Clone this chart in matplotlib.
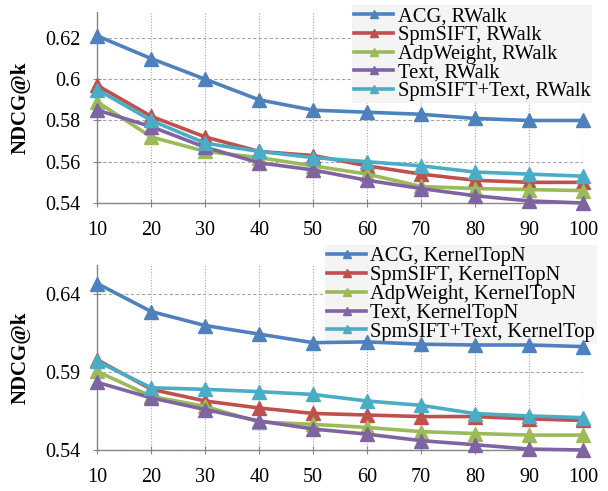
import matplotlib
matplotlib.use('Agg')
import matplotlib.pyplot as plt
import numpy as np

plt.rcParams['font.family'] = ['Liberation Serif', 'DejaVu Serif']

k = [10, 20, 30, 40, 50, 60, 70, 80, 90, 100]

# RWalk panel
rw_acg = [0.621, 0.610, 0.600, 0.590, 0.585, 0.584, 0.583, 0.581, 0.580, 0.580]
rw_sift = [0.597, 0.582, 0.572, 0.565, 0.563, 0.558, 0.554, 0.551, 0.550, 0.550]
rw_adp = [0.589, 0.572, 0.565, 0.562, 0.558, 0.554, 0.548, 0.547, 0.5465, 0.546]
rw_text = [0.585, 0.577, 0.567, 0.5595, 0.556, 0.551, 0.547, 0.5435, 0.541, 0.540]
rw_both = [0.595, 0.580, 0.569, 0.565, 0.562, 0.560, 0.558, 0.555, 0.554, 0.553]

# KernelTopN panel
kt_acg = [0.647, 0.629, 0.620, 0.6145, 0.609, 0.6095, 0.608, 0.6075, 0.6075, 0.6065]
kt_sift = [0.598, 0.579, 0.5715, 0.567, 0.5635, 0.5625, 0.5615, 0.5615, 0.560, 0.559]
kt_adp = [0.5905, 0.5745, 0.568, 0.558, 0.5565, 0.5545, 0.5518, 0.5506, 0.5496, 0.5496]
kt_text = [0.5835, 0.5735, 0.566, 0.5587, 0.5535, 0.5502, 0.546, 0.5434, 0.5406, 0.540]
kt_both = [0.597, 0.580, 0.579, 0.5775, 0.5757, 0.5715, 0.5687, 0.5634, 0.5619, 0.5608]

names = ['ACG', 'SpmSIFT', 'AdpWeight', 'Text', 'SpmSIFT+Text']
colors = ['#4F81BD', '#C0504D', '#9BBB59', '#8064A2', '#4BACC6']

fig = plt.figure(figsize=(6.08, 4.91), dpi=100)


def draw(ax, series, suffix, ylim, yticks, ylabels, legend_box):
	labels = [n + ', ' + suffix for n in names]
	if suffix == 'KernelTopN':
		labels[4] = 'SpmSIFT+Text, KernelTop'
	for vals, c, lab in zip(series, colors, labels):
		ax.plot(k, vals, color=c, lw=2.6, marker='^', ms=10.5,
				markeredgecolor=c, label=lab, clip_on=False, zorder=6)
	ax.set_xlim(10, 100)
	ax.set_ylim(*ylim)
	ax.set_xticks(k)
	ax.set_yticks(yticks)
	ax.set_yticklabels(ylabels)
	ax.yaxis.grid(True, ls=(0, (3, 2)), color='#a6a6a6', lw=0.8)
	ax.xaxis.grid(True, ls=(0, (1, 1.5)), color='#a6a6a6', lw=0.8)
	for s in ['top', 'right']:
		ax.spines[s].set_visible(False)
	for s in ['left', 'bottom']:
		ax.spines[s].set_color('#868686')
		ax.spines[s].set_linewidth(1.0)
	ax.tick_params(axis='both', direction='inout', length=6, color='#868686',
				   labelsize=14.5)
	ax.tick_params(axis='y', pad=9)
	ax.tick_params(axis='x', pad=10)
	ax.set_ylabel('NDCG@k', fontsize=15, fontweight='bold')
	ax.yaxis.set_label_coords(-0.137, 0.5)
	leg = ax.legend(loc='upper right', bbox_to_anchor=legend_box,
					bbox_transform=fig.transFigure, fontsize=14.8, frameon=True,
					facecolor='#f4f4f4', edgecolor='none', framealpha=1,
					fancybox=False, borderpad=0.1, labelspacing=-0.03,
					handlelength=1.9, handletextpad=0.2, markerscale=0.5,
					borderaxespad=0)
	leg.set_zorder(5)


ax1 = fig.add_axes([0.160, 0.5866, 0.799, 0.389])
draw(ax1, [rw_acg, rw_sift, rw_adp, rw_text, rw_both], 'RWalk',
	 (0.54, 0.6326), [0.54, 0.56, 0.58, 0.60, 0.62],
	 ['0.54', '0.56', '0.58', '0.6', '0.62'], (0.974, 0.99))

ax2 = fig.add_axes([0.160, 0.0835, 0.799, 0.377])
draw(ax2, [kt_acg, kt_sift, kt_adp, kt_text, kt_both], 'KernelTopN',
	 (0.54, 0.659), [0.54, 0.59, 0.64],
	 ['0.54', '0.59', '0.64'], (0.982, 0.501))

fig.savefig('out.png', dpi=100)
